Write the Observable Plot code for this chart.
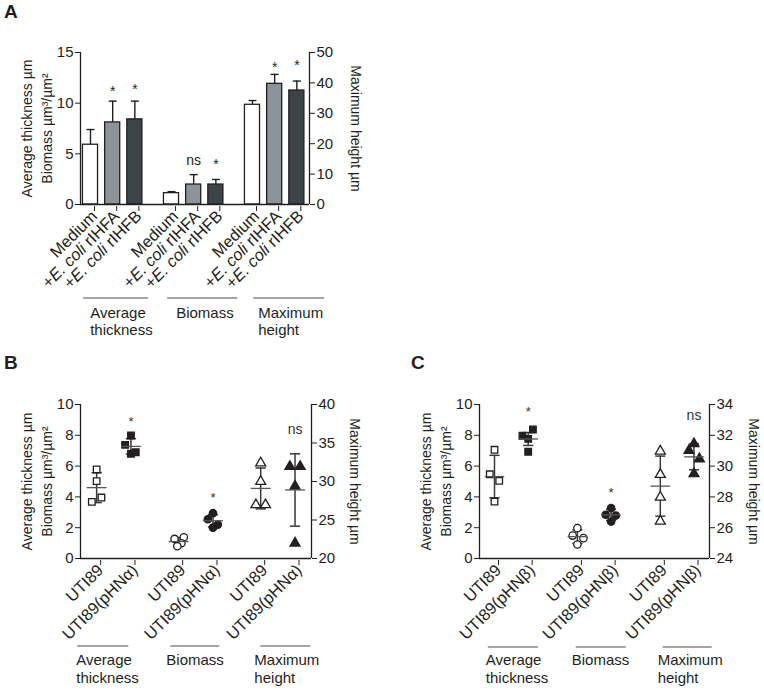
<!DOCTYPE html>
<html><head><meta charset="utf-8">
<script src="https://cdn.jsdelivr.net/npm/d3@7"></script>
<script src="https://cdn.jsdelivr.net/npm/@observablehq/plot@0.6"></script>
<style>
body{margin:0;background:#fff;}
#fig{position:relative;width:764px;height:692px;background:#fff;font-family:"Liberation Sans",Arial,Helvetica,sans-serif;color:#231f20;overflow:hidden;}
.panel{position:absolute;}
.letter{position:absolute;font-weight:bold;font-size:19px;line-height:19px;}
</style></head><body><div id="fig"></div>
<script>
// ---------------- DATA ----------------
const groups = ["Average thickness", "Biomass", "Maximum height"];
const groupLabelLines = [["Average", "thickness"], ["Biomass"], ["Maximum", "height"]];
const leftTitle = "Average thickness µm\nBiomass µm³/µm²";
const rightTitle = "Maximum height µm";

// Panel A (bars: mean + error)
const conditionsA = ["Medium", "+E. coli rIHFA", "+E. coli rIHFB"];
const avgThicknessA = [5.9, 8.1, 8.4];
const avgThicknessErrA = [1.5, 2.1, 1.8];
const biomassA = [1.12, 1.97, 1.97];
const biomassErrA = [0.15, 0.98, 0.5];
const maxHeightA = [32.8, 39.7, 37.5];
const maxHeightErrA = [1.4, 3.1, 3.1];
const sigA = [["", "*", "*"], ["", "ns", "*"], ["", "*", "*"]];
const sigYA = [[null, 11.5, 11.7], [null, 4.35, 4.3], [null, 46.3, 46.8]];
const leftTicksA = [0, 5, 10, 15];
const rightTicksA = [0, 10, 20, 30, 40, 50];

// Panel B (individual points, mean ± SD)
const conditionsB = ["UTI89", "UTI89(pHNα)"];
const avgThicknessB = [[5.78, 5.02, 3.96, 3.68], [7.99, 7.38, 6.9, 6.8]];
const biomassB = [[1.38, 1.27, 0.99, 0.8], [2.94, 2.55, 2.2, 2.0]];
const maxHeightB = [[32.4, 30.0, 26.97, 26.97], [31.95, 31.95, 29.4, 21.99]];
const spreadB = [
  [[0, 0, 0.14, -0.14], [0, -0.17, 0.14, 0]],
  [[0.15, -0.12, 0.08, -0.04], [0, -0.15, 0.14, 0]],
  [[0, 0, -0.14, 0.14], [-0.15, 0.15, 0, 0]]
];
const meanB = [[4.6, 7.28], [1.1, 2.45], [29.1, 28.9]];
const sdB = [[0.97, 0.5], [0.26, 0.4], [2.65, 4.7]];
const sigB = [["", "*"], ["", "*"], ["", "ns"]];
const sigYB = [[null, 9.1], [null, 4.16], [null, 36.76]];
const leftTicksB = [0, 2, 4, 6, 8, 10];
const rightTicksB = [20, 25, 30, 35, 40];

// Panel C
const conditionsC = ["UTI89", "UTI89(pHNβ)"];
const avgThicknessC = [[7.06, 5.47, 5.04, 3.7], [8.38, 7.97, 7.77, 6.93]];
const biomassC = [[1.97, 1.49, 1.32, 0.91], [3.27, 2.84, 2.79, 2.4]];
const maxHeightC = [[30.97, 29.45, 27.98, 26.42], [31.45, 31.01, 30.47, 29.5]];
const spreadC = [
  [[0, -0.14, 0.14, 0], [0.14, -0.17, 0, 0]],
  [[0, -0.14, 0.18, 0], [0, -0.16, 0.14, 0]],
  [[0, 0, 0, 0], [0, -0.15, 0.16, 0]]
];
const meanC = [[5.32, 7.76], [1.42, 2.83], [28.7, 30.6]];
const sdC = [[1.38, 0.42], [0.44, 0.36], [1.95, 0.84]];
const sigC = [["", "*"], ["", "*"], ["", "ns"]];
const sigYC = [[null, 9.74], [null, 4.48], [null, 33.29]];
const leftTicksC = [0, 2, 4, 6, 8, 10];
const rightTicksC = [24, 26, 28, 30, 32, 34];

// ---------------- STYLE / LAYOUT ----------------
const INK = "#231f20";
const FONT = '"Liberation Sans", Arial, Helvetica, sans-serif';
const barFills = ["#ffffff", "#8d9499", "#3d4447"];
const pointFills = ["#ffffff", INK];
const symbols = ["square", "circle", "triangle"];
const TICK_FS = 15, XLAB_FS = 16.5, TITLE_FS = 14;

const layoutA = {left: 0, top: 0, width: 380, height: 350, mL: 80, mR: 71, mT: 52, mB: 146,
  xDomain: [-0.45, 9.87], stride: 3.65, yDomain: [0, 15], rDomain: [0, 50],
  leftDx: -44.5, rightDx: 46,
  lineY: 298, textY: [318, 335], lineOff: [[-29, 36], [-26, 44], [-21, 50]], textOff: [-22, -17, -16]};
const layoutB = {left: 0, top: 360, width: 380, height: 332, mL: 80, mR: 69, mT: 44, mB: 134,
  xDomain: [-0.47, 6.26], stride: 2.39, yDomain: [0, 10], rDomain: [20, 40],
  leftDx: -44.5, rightDx: 43,
  lineY: 286, textY: [305, 323], lineOff: [[-36, 15], [-25, 24], [-17, 33]], textOff: [-37, -29, -23]};
const layoutC = {left: 380, top: 360, width: 384, height: 332, mL: 99, mR: 55, mT: 44, mB: 134,
  xDomain: [-0.445, 6.38], stride: 2.46, yDomain: [0, 10], rDomain: [24, 34],
  leftDx: -45, rightDx: 44,
  lineY: 287, textY: [305, 323], lineOff: [[-23, 27], [-18, 32], [-14, 35]], textOff: [-25, -22, -19]};

// ---------------- HELPERS ----------------
function rightMap(L) {
  const k = (L.yDomain[1] - L.yDomain[0]) / (L.rDomain[1] - L.rDomain[0]);
  return {to: r => L.yDomain[0] + (r - L.rDomain[0]) * k, from: l => L.rDomain[0] + (l - L.yDomain[0]) / k};
}

function frameMarks(L, map, leftTicks, rightTicks, xTicks, xLabel) {
  return [
    Plot.ruleY([L.yDomain[0]], {stroke: INK, strokeWidth: 1.3}),
    Plot.ruleX(L.xDomain, {stroke: INK, strokeWidth: 1.3}),
    Plot.axisY({anchor: "left", ticks: leftTicks, tickSize: 5, tickPadding: 2, label: null, fontSize: TICK_FS}),
    Plot.axisY({anchor: "right", ticks: rightTicks.map(map.to), tickFormat: d => String(Math.round(map.from(d))),
      tickSize: 5, tickPadding: 2, label: null, fontSize: TICK_FS}),
    Plot.axisX({ticks: xTicks, tickFormat: d => xLabel.get(d), tickRotate: -45, tickSize: 5, tickPadding: 2,
      label: null, fontSize: XLAB_FS, dx: 4, dy: 2}),
    Plot.text([leftTitle], {frameAnchor: "left", textAnchor: "middle", rotate: -90, dx: L.leftDx, lineHeight: 1.43,
      fontSize: TITLE_FS, fill: INK}),
    Plot.text([rightTitle], {frameAnchor: "right", textAnchor: "middle", rotate: 90, dx: L.rightDx,
      fontSize: TITLE_FS, fill: INK})
  ];
}

function fixFonts(svg) {
  svg.querySelectorAll('g[aria-label="y-axis tick label"]').forEach(g => g.setAttribute("font-size", TICK_FS));
  svg.querySelectorAll('g[aria-label="x-axis tick label"]').forEach(g => g.setAttribute("font-size", XLAB_FS));
}

function italicize(svg) {
  svg.querySelectorAll("text, tspan").forEach(t => {
    if (t.childElementCount === 0 && t.textContent.includes("E. coli")) {
      const s = t.textContent, i = s.indexOf("E. coli");
      t.textContent = "";
      [[s.slice(0, i), false], ["E. coli", true], [s.slice(i + 7), false]].forEach(([str, it]) => {
        const ts = document.createElementNS("http://www.w3.org/2000/svg", "tspan");
        if (it) ts.setAttribute("font-style", "italic");
        ts.textContent = str;
        t.appendChild(ts);
      });
    }
  });
}

function drawGroups(svg, L, centers) {
  const sx = svg.scale("x");
  const sel = d3.select(svg);
  groups.forEach((g, gi) => {
    const c = sx.apply(centers[gi]);
    sel.append("line").attr("x1", c + L.lineOff[gi][0]).attr("x2", c + L.lineOff[gi][1])
      .attr("y1", L.lineY).attr("y2", L.lineY).attr("stroke", "#4a4a4a").attr("stroke-width", 1);
    groupLabelLines[gi].forEach((line, li) => {
      sel.append("text").attr("x", c + L.textOff[gi]).attr("y", L.textY[li])
        .attr("font-size", 15).attr("fill", INK).attr("text-anchor", "start").text(line);
    });
  });
}

function place(svg, L) {
  svg.classList.add("panel");
  svg.style.left = L.left + "px";
  svg.style.top = L.top + "px";
  document.getElementById("fig").appendChild(svg);
}

function letter(ch, x, y) {
  const d = document.createElement("div");
  d.className = "letter"; d.textContent = ch;
  d.style.left = x + "px"; d.style.top = y + "px";
  document.getElementById("fig").appendChild(d);
}

// ---------------- PANEL A ----------------
(function () {
  const L = layoutA, map = rightMap(L);
  const series = [[avgThicknessA, avgThicknessErrA], [biomassA, biomassErrA], [maxHeightA, maxHeightErrA]];
  const rows = [];
  groups.forEach((g, gi) => conditionsA.forEach((c, ci) => {
    const conv = gi === 2 ? map.to : (v => v);
    const [m, e] = series[gi];
    rows.push({x: gi * L.stride + ci, label: c, mean: conv(m[ci]), hi: conv(m[ci] + e[ci]), fill: barFills[ci],
      sig: sigA[gi][ci], sigY: sigYA[gi][ci] == null ? null : conv(sigYA[gi][ci])});
  }));
  const xLabel = new Map(rows.map(d => [d.x, d.label]));
  const svg = Plot.plot({
    width: L.width, height: L.height, marginLeft: L.mL, marginRight: L.mR, marginTop: L.mT, marginBottom: L.mB,
    x: {domain: L.xDomain, axis: null}, y: {domain: L.yDomain, axis: null}, color: {type: "identity"},
    style: {fontFamily: FONT, fontSize: "14px", color: INK, background: "transparent", overflow: "visible"},
    marks: [
      Plot.ruleX(rows, {x: "x", y1: "mean", y2: "hi", stroke: INK, strokeWidth: 1.4}),
      Plot.link(rows, {x1: d => d.x - 0.18, x2: d => d.x + 0.18, y1: "hi", y2: "hi", stroke: INK, strokeWidth: 1.4}),
      Plot.rectY(rows, {x1: d => d.x - 0.34, x2: d => d.x + 0.34, y1: 0, y2: "mean", fill: "fill", stroke: INK, strokeWidth: 1.3}),
      ...frameMarks(L, map, leftTicksA, rightTicksA, rows.map(d => d.x), xLabel),
      Plot.text(rows.filter(d => d.sig === "*"), {x: "x", y: "sigY", text: "sig", fontSize: 14, dy: 3.5, fill: INK}),
      Plot.text(rows.filter(d => d.sig === "ns"), {x: "x", y: "sigY", text: "sig", fontSize: 14, fill: INK})
    ]
  });
  fixFonts(svg);
  italicize(svg);
  place(svg, L);
  drawGroups(svg, L, groups.map((g, gi) => gi * L.stride + 1));
})();

// ---------------- PANELS B & C ----------------
function pointPanel(L, conditions, seriesList, spread, means, sds, sig, sigY, leftTicks, rightTicks) {
  const map = rightMap(L);
  const points = [], summary = [];
  groups.forEach((g, gi) => conditions.forEach((c, ci) => {
    const conv = gi === 2 ? map.to : (v => v);
    const x = gi * L.stride + ci;
    seriesList[gi][ci].forEach((v, k) => points.push({g: gi, x: x + spread[gi][ci][k], y: conv(v), fill: pointFills[ci]}));
    summary.push({x, label: c, mean: conv(means[gi][ci]), lo: conv(means[gi][ci] - sds[gi][ci]),
      hi: conv(means[gi][ci] + sds[gi][ci]), sig: sig[gi][ci], sigY: sigY[gi][ci] == null ? null : conv(sigY[gi][ci])});
  }));
  const xLabel = new Map(summary.map(d => [d.x, d.label]));
  const EB = "#3a3a3a";
  const svg = Plot.plot({
    width: L.width, height: L.height, marginLeft: L.mL, marginRight: L.mR, marginTop: L.mT, marginBottom: L.mB,
    x: {domain: L.xDomain, axis: null}, y: {domain: L.yDomain, axis: null}, color: {type: "identity"},
    style: {fontFamily: FONT, fontSize: "14px", color: INK, background: "transparent", overflow: "visible"},
    marks: [
      ...frameMarks(L, map, leftTicks, rightTicks, summary.map(d => d.x), xLabel),
      Plot.ruleX(summary, {x: "x", y1: "lo", y2: "hi", stroke: EB, strokeWidth: 1.5}),
      Plot.link(summary, {x1: d => d.x - 0.15, x2: d => d.x + 0.15, y1: "hi", y2: "hi", stroke: EB, strokeWidth: 1.5}),
      Plot.link(summary, {x1: d => d.x - 0.15, x2: d => d.x + 0.15, y1: "lo", y2: "lo", stroke: EB, strokeWidth: 1.5}),
      ...groups.map((g, gi) => Plot.dot(points.filter(p => p.g === gi), {x: "x", y: "y", symbol: symbols[gi], r: 3.7,
        fill: "fill", stroke: INK, strokeWidth: 1.3})),
      Plot.link(summary, {x1: d => d.x - 0.29, x2: d => d.x + 0.29, y1: "mean", y2: "mean", stroke: "#555", strokeWidth: 1.3}),
      Plot.text(summary.filter(d => d.sig === "*"), {x: "x", y: "sigY", text: "sig", fontSize: 13, dy: 3.3, fill: "#333"}),
      Plot.text(summary.filter(d => d.sig === "ns"), {x: "x", y: "sigY", text: "sig", fontSize: 14, fill: "#333"})
    ]
  });
  fixFonts(svg);
  place(svg, L);
  drawGroups(svg, L, groups.map((g, gi) => gi * L.stride + 0.5));
}

pointPanel(layoutB, conditionsB, [avgThicknessB, biomassB, maxHeightB], spreadB, meanB, sdB, sigB, sigYB, leftTicksB, rightTicksB);
pointPanel(layoutC, conditionsC, [avgThicknessC, biomassC, maxHeightC], spreadC, meanC, sdC, sigC, sigYC, leftTicksC, rightTicksC);

letter("A", 4, 2);
letter("B", 4, 353);
letter("C", 411, 353);
</script></body></html>
